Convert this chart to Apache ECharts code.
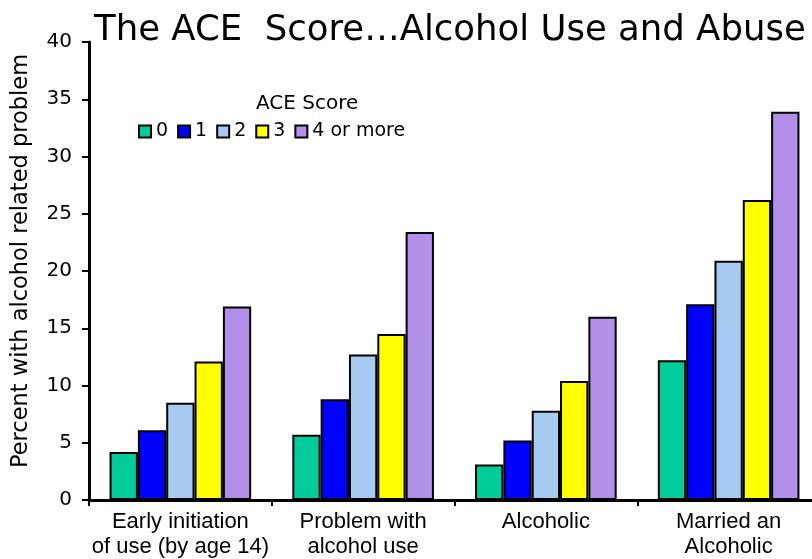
<!DOCTYPE html>
<html>
<head>
<meta charset="utf-8">
<script src="https://cdn.jsdelivr.net/npm/echarts@6/dist/echarts.min.js"></script>
<style>
  html, body { margin: 0; padding: 0; background: #fff; }
  #chart { width: 812px; height: 559px; }
</style>
</head>
<body>
<div id="chart"></div>
<script>
// Outcome categories along the x axis
const categories = [
  'Early initiation\nof use (by age 14)',
  'Problem with\nalcohol use',
  'Alcoholic',
  'Married an\nAlcoholic'
];

// ACE score groups (legend entries)
const scoreNames = ['0', '1', '2', '3', '4 or more'];

// Percent with an alcohol related problem, one array per ACE score
const score0 = [4.2, 5.7, 3.1, 12.2];
const score1 = [6.1, 8.8, 5.2, 17.1];
const score2 = [8.5, 12.7, 7.8, 20.9];
const score3 = [12.1, 14.5, 10.4, 26.2];
const score4 = [16.9, 23.4, 16.0, 33.9];

const yTicks = [0, 5, 10, 15, 20, 25, 30, 35, 40];

const palette = ['#00cc99', '#0000ff', '#a6caf0', '#ffff00', '#b28fe8'];
const seriesValues = [score0, score1, score2, score3, score4];

const chart = echarts.init(document.getElementById('chart'), null, { renderer: 'canvas' });

const sansFont = 'DejaVu Sans, sans-serif';
const labelFont = 'Liberation Sans, Arial, sans-serif';

chart.setOption({
  animation: false,
  backgroundColor: '#ffffff',
  title: [
    {
      text: 'The ACE  Score\u2026Alcohol Use and Abuse',
      left: 89,
      top: 8,
      textStyle: { fontFamily: sansFont, fontWeight: 'normal', fontSize: 35.5, color: '#000' }
    },
    {
      text: 'ACE Score',
      left: 251,
      top: 89,
      textStyle: { fontFamily: sansFont, fontWeight: 'normal', fontSize: 20, color: '#000' }
    }
  ],
  legend: {
    data: scoreNames,
    left: 133,
    top: 117,
    itemWidth: 12,
    itemHeight: 12,
    itemGap: 9,
    icon: 'rect',
    textStyle: { fontFamily: sansFont, fontSize: 19, color: '#000', padding: [0, 0, 0, 0] },
    itemStyle: { borderColor: '#000', borderWidth: 2 }
  },
  grid: { left: 89, top: 42, bottom: 59, width: 731, outerBoundsMode: 'none', containLabel: false },
  xAxis: {
    type: 'category',
    data: categories,
    axisLine: { lineStyle: { color: '#000', width: 3 } },
    axisTick: { show: true, length: 6, lineStyle: { color: '#000', width: 2 } },
    axisLabel: {
      interval: 0,
      fontFamily: labelFont,
      fontSize: 22,
      color: '#000',
      lineHeight: 25,
      margin: 9
    }
  },
  yAxis: {
    type: 'value',
    min: yTicks[0],
    max: yTicks[yTicks.length - 1],
    interval: 5,
    name: 'Percent with alcohol related problem',
    nameLocation: 'middle',
    nameGap: 56,
    nameTextStyle: { fontFamily: sansFont, fontSize: 22.5, color: '#000', padding: [0, 0, 0, 20] },
    axisLine: { show: true, lineStyle: { color: '#000', width: 3 } },
    axisTick: { show: true, inside: false, length: 7, lineStyle: { color: '#000', width: 2 } },
    axisLabel: { fontFamily: sansFont, fontSize: 20, color: '#000', margin: 17 },
    splitLine: { show: false }
  },
  series: seriesValues.map((vals, i) => ({
    name: scoreNames[i],
    type: 'bar',
    data: vals,
    barGap: '0%',
    barCategoryGap: '22.5%',
    itemStyle: { color: palette[i], borderColor: '#000', borderWidth: 2 }
  }))
});
</script>
</body>
</html>
